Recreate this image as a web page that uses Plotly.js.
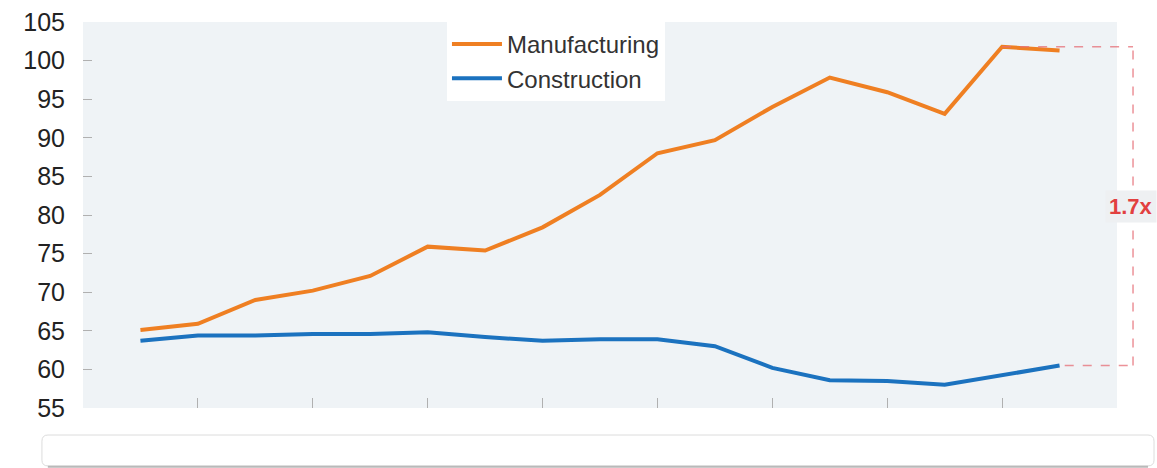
<!DOCTYPE html>
<html>
<head>
<meta charset="utf-8">
<script src="https://cdn.plot.ly/plotly-3.0.1.min.js"></script>
<style>html,body{margin:0;padding:0;background:#fff;}#chart{width:1157px;height:468px;}</style>
</head>
<body>
<div id="chart"></div>
<script>
// Period positions (half-steps between unlabeled axis ticks)
const period = [0.5, 1.0, 1.5, 2.0, 2.5, 3.0, 3.5, 4.0, 4.5, 5.0, 5.5, 6.0, 6.5, 7.0, 7.5, 8.0, 8.5];
const manufacturing = [65.1, 65.9, 69.0, 70.2, 72.1, 75.9, 75.4, 78.4, 82.6, 88.0, 89.7, 94.0, 97.8, 95.9, 93.1, 101.8, 101.3];
const construction = [63.7, 64.4, 64.4, 64.6, 64.6, 64.8, 64.2, 63.7, 63.9, 63.9, 63.0, 60.2, 58.6, 58.5, 58.0, 59.3, 60.5];
const seriesNames = ["Manufacturing", "Construction"];
const yTicks = [55, 60, 65, 70, 75, 80, 85, 90, 95, 100, 105];
const xTicks = [0, 1, 2, 3, 4, 5, 6, 7, 8, 9];
const ratioLabel = "1.7x";

const FONT = '"Liberation Sans", Arial, Helvetica, sans-serif';
const xMax = 9;

const maxIdx = manufacturing.indexOf(Math.max(...manufacturing));
const topVal = manufacturing[maxIdx];
const botVal = construction[construction.length - 1];
const bracketX = 1.0155;

const traces = [
  {x: period, y: manufacturing, name: seriesNames[0], type: 'scatter', mode: 'lines',
   line: {color: '#ef7f22', width: 4}},
  {x: period, y: construction, name: seriesNames[1], type: 'scatter', mode: 'lines',
   line: {color: '#1b72bf', width: 4}}
];

const dashCol = 'rgba(230,110,118,0.75)';
const layout = {
  width: 1157, height: 468,
  margin: {l: 83, r: 40, t: 22, b: 60},
  paper_bgcolor: '#ffffff',
  plot_bgcolor: '#eff3f6',
  font: {family: FONT, color: '#222'},
  showlegend: true,
  legend: {x: 0.352, y: 1, xanchor: 'left', yanchor: 'top', bgcolor: '#ffffff',
           font: {size: 24, color: '#333', family: FONT}, itemwidth: 50, borderwidth: 0},
  xaxis: {range: [0, xMax], tickvals: xTicks, ticktext: xTicks.map(() => ''), ticks: 'inside',
          ticklen: 10, tickcolor: '#b0b0b0', tickwidth: 1, showgrid: false, zeroline: false,
          showline: false, fixedrange: true},
  yaxis: {range: [55, 105], tickvals: yTicks, ticks: 'inside', ticklen: 9, tickcolor: '#b0b0b0',
          tickwidth: 1, showgrid: false, zeroline: false, showline: false,
          tickfont: {size: 25, color: '#222', family: FONT}, ticklabelstandoff: 17, fixedrange: true},
  shapes: [
    {type: 'line', xref: 'paper', yref: 'y', x0: period[maxIdx] / xMax, x1: bracketX, y0: topVal, y1: topVal,
     line: {color: dashCol, width: 1.5, dash: 'dash'}},
    {type: 'line', xref: 'paper', yref: 'y', x0: period[period.length - 1] / xMax + 0.005, x1: bracketX, y0: botVal, y1: botVal,
     line: {color: dashCol, width: 1.5, dash: 'dash'}},
    {type: 'line', xref: 'paper', yref: 'y', x0: bracketX, x1: bracketX, y0: botVal, y1: topVal,
     line: {color: dashCol, width: 1.5, dash: 'dash'}},
    {type: 'path', xref: 'paper', yref: 'paper',
     path: 'M -0.0397 -0.086 L -0.0397 -0.135 Q -0.0397 -0.150 -0.0339 -0.150 L 1.0300 -0.150 Q 1.0358 -0.150 1.0358 -0.135 L 1.0358 -0.086 Q 1.0358 -0.070 1.0300 -0.070 L -0.0339 -0.070 Q -0.0397 -0.070 -0.0397 -0.086 Z',
     line: {color: '#dcdcdc', width: 1}, fillcolor: '#ffffff'},
    {type: 'line', xref: 'paper', yref: 'paper', x0: -0.034, x1: 1.030, y0: -0.152, y1: -0.152,
     line: {color: '#b9b9b9', width: 2}}
  ],
  annotations: [
    {xref: 'paper', yref: 'y', x: 1.0385, y: (topVal + botVal) / 2, xanchor: 'right', yanchor: 'middle',
     text: '<b>' + ratioLabel + '</b>', showarrow: false, font: {size: 22, color: '#e2403f', family: FONT},
     bgcolor: '#eef0f2', borderpad: 3}
  ]
};

Plotly.newPlot('chart', traces, layout, {displayModeBar: false, staticPlot: true});
</script>
</body>
</html>
